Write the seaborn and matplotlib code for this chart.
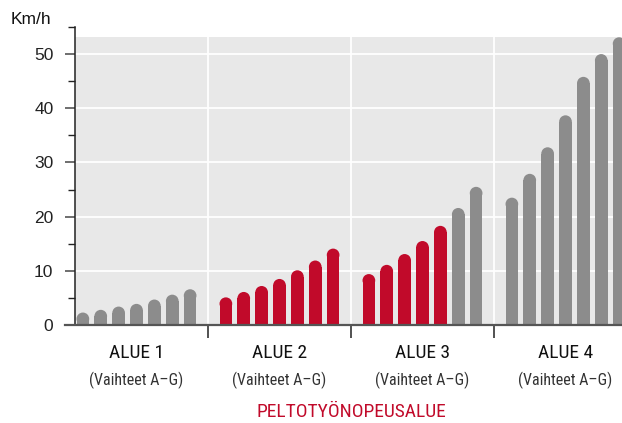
import numpy as np
import pandas as pd
import matplotlib
matplotlib.use("Agg")
import matplotlib.pyplot as plt
import matplotlib.transforms as mtransforms
from matplotlib import font_manager
from matplotlib.patches import Rectangle
from matplotlib.ticker import FixedLocator
import seaborn as sns

# ---- data ----
groups = ["ALUE 1", "ALUE 2", "ALUE 3", "ALUE 4"]
group_sub = "(Vaihteet A–G)"
speeds_alue1 = [2.3, 2.8, 3.4, 3.9, 4.7, 5.6, 6.6]
speeds_alue2 = [5.1, 6.1, 7.2, 8.5, 10.1, 11.9, 14.1]
speeds_alue3 = [9.4, 11.1, 13.1, 15.5, 18.3, 21.6, 25.5]
speeds_alue4 = [23.5, 27.9, 32.8, 38.7, 45.8, 50.0, 53.1]
field_alue1 = [0, 0, 0, 0, 0, 0, 0]
field_alue2 = [1, 1, 1, 1, 1, 1, 1]
field_alue3 = [1, 1, 1, 1, 1, 0, 0]
field_alue4 = [0, 0, 0, 0, 0, 0, 0]
y_label = "Km/h"
x_title = "PELTOTYÖNOPEUSALUE"

GRAY = "#8c8c8c"
RED = "#c10a2a"
BG = "#e8e8e8"

all_speeds = [speeds_alue1, speeds_alue2, speeds_alue3, speeds_alue4]
all_field = [field_alue1, field_alue2, field_alue3, field_alue4]
rows = []
for gi, (sp, fl) in enumerate(zip(all_speeds, all_field)):
    for j, (v, f) in enumerate(zip(sp, fl)):
        rows.append({"pos": gi * 8 + j + 1, "speed": v,
                     "kind": "field" if f else "other"})
df = pd.DataFrame(rows)
palette = {"field": RED, "other": GRAY}

sns.set_theme(style="white")
installed = {f.name for f in font_manager.fontManager.ttflist}
cond = [n for n in ["Roboto Condensed", "Open Sans Condensed", "Liberation Sans Narrow"]
        if n in installed]
plt.rcParams["font.family"] = cond + ["Liberation Sans", "DejaVu Sans"]
plt.rcParams["font.stretch"] = "condensed"
narrow = bool(cond)

W, H, DPI = 6.22, 4.23, 100
fig = plt.figure(figsize=(W, H), dpi=DPI)
ax_left, ax_right = 65 / 622, 1.0
ax_bottom, ax_top = (423 - 325) / 423, (423 - 27) / 423
ax = fig.add_axes([ax_left, ax_bottom, ax_right - ax_left, ax_top - ax_bottom])
ax.set_facecolor("white")

XMAX = (622 - 65) / 17.875
YMAX = 55
ax.set_xlim(0, XMAX)
ax.set_ylim(0, YMAX)

px_per_x = (ax_right - ax_left) * W * DPI / XMAX
px_per_y = (ax_top - ax_bottom) * H * DPI / YMAX
bar_w = 0.71
r_px = bar_w * px_per_x / 2
r_y = r_px / px_per_y

top_bg = max(speeds_alue4)
spine_x = 0.56
ax.add_patch(Rectangle((spine_x, 0), XMAX, top_bg, facecolor=BG, edgecolor="none", zorder=0))
for yv in range(10, 51, 10):
    ax.plot([spine_x, XMAX], [yv, yv], color="white", lw=1.3, zorder=0.5)
for xv in [8, 16, 24]:
    ax.plot([xv, xv], [0, top_bg], color="white", lw=1.3, zorder=0.5)

df["body"] = df["speed"] - r_y
sns.barplot(data=df, x="pos", y="body", hue="kind", palette=palette,
            native_scale=True, dodge=False, width=bar_w, linewidth=0,
            saturation=1, legend=False, ax=ax, zorder=2)
diam_pt = 2 * r_px * 72 / DPI
sns.scatterplot(data=df, x="pos", y="body", hue="kind", palette=palette,
                s=diam_pt ** 2, marker="o", linewidth=0, legend=False,
                ax=ax, zorder=2)
ax.set_xlim(0, XMAX)
ax.set_ylim(0, YMAX)

for s in ["top", "right"]:
    ax.spines[s].set_visible(False)
ax.spines["left"].set_position(("data", spine_x))
ax.spines["left"].set_color("#222222")
ax.spines["left"].set_linewidth(1.1)
ax.spines["left"].set_zorder(3)
ax.spines["bottom"].set_color("#555555")
ax.spines["bottom"].set_linewidth(1.6)
ax.spines["bottom"].set_zorder(3)

ax.yaxis.set_major_locator(FixedLocator([0, 10, 20, 30, 40, 50]))
ax.yaxis.set_minor_locator(FixedLocator([5, 15, 25, 35, 45, 55]))
ax.tick_params(axis="y", which="major", length=7.5, width=1.2, color="#555555",
               labelsize=12.5, labelcolor="#222222", pad=8, direction="out", left=True)
ax.tick_params(axis="y", which="minor", length=5, width=1.0, color="#222222",
               direction="out", left=True)
ax.set_yticklabels(["0", "10", "20", "30", "40", "50"],
                   family=["Liberation Sans", "DejaVu Sans"], fontsize=12.5)

ax.xaxis.set_major_locator(FixedLocator([8, 16, 24]))
ax.set_xticklabels(["", "", ""])
ax.tick_params(axis="x", which="major", length=9, width=1.2, color="#333333",
               direction="out", bottom=True)
ax.set_xlabel("")
ax.set_ylabel("")

fig.text(31 / 622, (423 - 19) / 423, y_label, ha="center", va="center",
         fontsize=12.5, color="#111111", family=["Liberation Sans", "DejaVu Sans"])

big = 14 if narrow else 13
small = 11.5 if narrow else 10.5
title_fs = 14 if narrow else 12.5
trans = mtransforms.blended_transform_factory(ax.transData, fig.transFigure)
for gi, g in enumerate(groups):
    cx = gi * 8 + 4
    ax.text(cx, (423 - 353) / 423, g, transform=trans, ha="center", va="center",
            fontsize=big, color="#111111")
    ax.text(cx, (423 - 380) / 423, group_sub, transform=trans, ha="center",
            va="center", fontsize=small, color="#333333")
ax.text(16, (423 - 412) / 423, x_title, transform=trans, ha="center", va="center",
        fontsize=title_fs, color=RED)

fig.savefig("out.png", dpi=DPI)
